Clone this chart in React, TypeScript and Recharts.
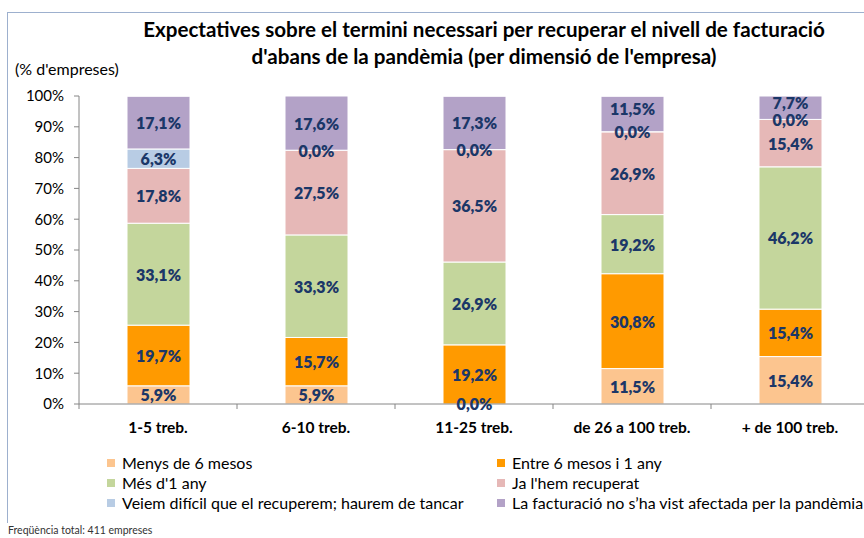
import React from 'react';
import { Bar, BarChart, LabelList, XAxis, YAxis } from 'recharts';

const categories = ['1-5 treb.', '6-10 treb.', '11-25 treb.', 'de 26 a 100 treb.', '+ de 100 treb.'];

const menys6 = [5.9, 5.9, 0.0, 11.5, 15.4];
const entre6i1 = [19.7, 15.7, 19.2, 30.8, 15.4];
const mesDe1 = [33.1, 33.3, 26.9, 19.2, 46.2];
const recuperat = [17.8, 27.5, 36.5, 26.9, 15.4];
const tancar = [6.3, 0.0, 0.0, 0.0, 0.0];
const noAfectada = [17.1, 17.6, 17.3, 11.5, 7.7];

const yTicks = [0, 10, 20, 30, 40, 50, 60, 70, 80, 90, 100];

const SERIES = [
  { key: 'menys6', name: 'Menys de 6 mesos', color: '#FCC58F', values: menys6 },
  { key: 'entre6i1', name: 'Entre 6 mesos i 1 any', color: '#FF9A00', values: entre6i1 },
  { key: 'mesDe1', name: "Més d'1 any", color: '#C4D69C', values: mesDe1 },
  { key: 'recuperat', name: "Ja l'hem recuperat", color: '#E6B8B7', values: recuperat },
  { key: 'tancar', name: 'Veiem difícil que el recuperem; haurem de tancar', color: '#B8CCE4', values: tancar },
  { key: 'noAfectada', name: 'La facturació no s’ha vist afectada per la pandèmia', color: '#B3A2C7', values: noAfectada },
];

const data = categories.map((cat, i) => {
  const row: Record<string, string | number> = { cat };
  SERIES.forEach((s) => {
    row[s.key] = s.values[i];
  });
  return row;
});

const FONT = 'Lato, "Open Sans", sans-serif';
const LABEL_COLOR = '#1B3768';
const AXIS_COLOR = '#868686';

const fmtPct = (v: unknown) => `${Number(v).toFixed(1).replace('.', ',')}%`;

const SegLabel = (props: any) => {
  const { x, y, width, height, value, index, sIdx } = props;
  if (x == null || y == null) return null;
  // like Excel, lift a short segment's label a bit when a "0,0%" label sits right under it
  const below = sIdx > 0 ? SERIES[sIdx - 1].values[index] : null;
  const dy = below === 0 && Math.abs(Number(height)) < 40 ? -5.5 : 0;
  return (
    <text
      x={Number(x) + Number(width) / 2}
      y={Number(y) + Number(height) / 2 + dy}
      textAnchor="middle"
      dominantBaseline="central"
      fill={LABEL_COLOR}
      fontSize={16}
      fontWeight={800}
      fontFamily={FONT}
    >
      {fmtPct(value)}
    </text>
  );
};

const CatTick = (props: any) => {
  const { x, y, payload, index, visibleTicksCount } = props;
  const half = payload.offset ?? 0;
  return (
    <g>
      <line x1={x - half} x2={x - half} y1={y - 8} y2={y - 3} stroke={AXIS_COLOR} />
      {index === visibleTicksCount - 1 && (
        <line x1={x + half} x2={x + half} y1={y - 8} y2={y - 3} stroke={AXIS_COLOR} />
      )}
      <text x={x} y={y + 21} textAnchor="middle" fontFamily={FONT} fontWeight={700} fontSize={15.5} fill="#000">
        {payload.value}
      </text>
    </g>
  );
};

export default function App() {
  return (
    <div
      style={{
        position: 'absolute',
        left: 0,
        top: 0,
        width: 864,
        height: 538,
        overflow: 'hidden',
        background: '#fff',
        fontFamily: FONT,
      }}
    >
      <div
        style={{
          position: 'absolute',
          left: 7,
          top: 12,
          width: 900,
          height: 510,
          borderLeft: '1.5px solid #9DB0CE',
          borderTop: '1.5px solid #9DB0CE',
        }}
      />
      <div
        style={{
          position: 'absolute',
          left: 0,
          width: 968,
          top: 16,
          textAlign: 'center',
          fontWeight: 700,
          fontSize: 20.6,
          lineHeight: '27px',
          color: '#000',
        }}
      >
        Expectatives sobre el termini necessari per recuperar el nivell de facturació
        <br />
        d'abans de la pandèmia (per dimensió de l'empresa)
      </div>
      <div style={{ position: 'absolute', left: 15, top: 59, fontSize: 16, color: '#000' }}>
        (% d'empreses)
      </div>

      <div style={{ position: 'absolute', left: 0, top: 0 }}>
        <BarChart
          width={880}
          height={450}
          data={data}
          margin={{ top: 96, right: 11, left: 0, bottom: 6 }}
          barSize={63}
        >
          <XAxis
            dataKey="cat"
            height={40}
            stroke={AXIS_COLOR}
            tickLine={false}
            interval={0}
            tick={<CatTick />}
          />
          <YAxis
            width={79}
            domain={[0, 100]}
            ticks={yTicks}
            allowDataOverflow
            stroke={AXIS_COLOR}
            tickSize={5}
            tickMargin={10}
            tickFormatter={(v) => `${v}%`}
            tick={{ fill: '#000', fontSize: 15, fontFamily: FONT }}
          />
          {SERIES.map((s, k) => (
            <Bar
              key={s.key}
              dataKey={s.key}
              name={s.name}
              stackId="a"
              fill={s.color}
              stroke="#fff"
              strokeWidth={1}
              // zero segments still carry a "0,0%" label, so keep a hairline rect for them
              minPointSize={(_v: unknown, i: number) => (s.values[i] === 0 ? 0.01 : 0)}
              isAnimationActive={false}
            >
              <LabelList dataKey={s.key} content={(p: any) => <SegLabel {...p} sIdx={k} />} />
            </Bar>
          ))}
        </BarChart>
      </div>

      <div
        style={{
          position: 'absolute',
          left: 107,
          top: 453,
          display: 'grid',
          gridTemplateColumns: '390px 370px',
          rowGap: 1,
          fontSize: 16,
          lineHeight: '19px',
          color: '#000',
        }}
      >
        {SERIES.map((s) => (
          <div key={s.key} style={{ display: 'flex', alignItems: 'center', whiteSpace: 'nowrap' }}>
            <span style={{ width: 8, height: 8, background: s.color, marginRight: 7, display: 'inline-block' }} />
            {s.name}
          </div>
        ))}
      </div>

      <div style={{ position: 'absolute', left: 8, top: 524, fontSize: 10.5, color: '#333' }}>
        Freqüència total: 411 empreses
      </div>
    </div>
  );
}
